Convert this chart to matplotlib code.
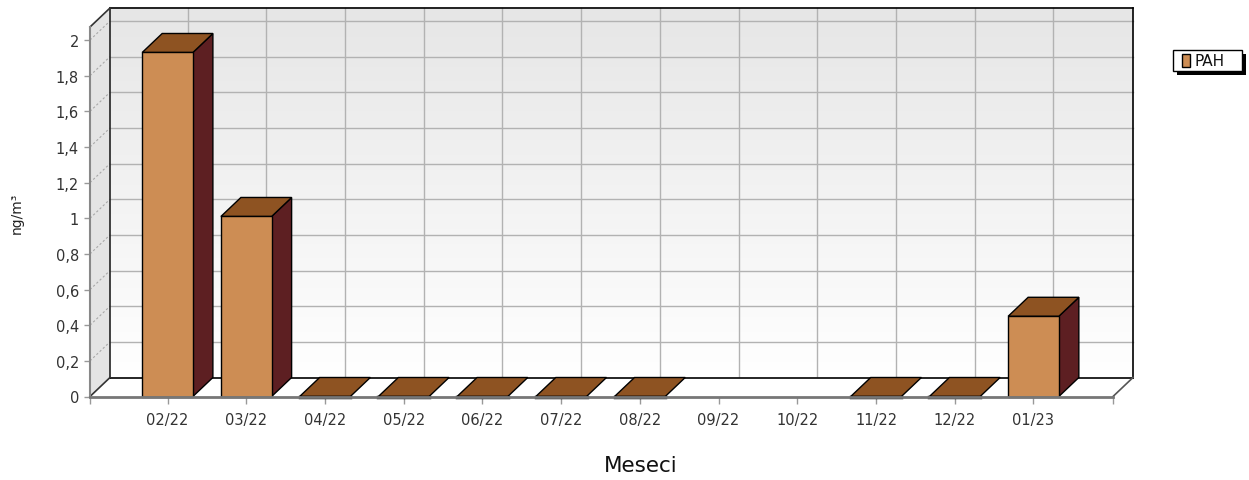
import numpy as np
import matplotlib
matplotlib.use("Agg")
import matplotlib.pyplot as plt
from matplotlib.patches import Polygon, Rectangle
from matplotlib.lines import Line2D
from matplotlib.transforms import IdentityTransform, ScaledTranslation
from matplotlib.colors import LinearSegmentedColormap

# ---------------- data ----------------
categories = ["02/22", "03/22", "04/22", "05/22", "06/22", "07/22",
              "08/22", "09/22", "10/22", "11/22", "12/22", "01/23"]
pah_values = [1.93, 1.01, 0, 0, 0, 0, 0, np.nan, np.nan, 0, 0, 0.45]
y_ticks = [0, 0.2, 0.4, 0.6, 0.8, 1.0, 1.2, 1.4, 1.6, 1.8, 2.0]
y_tick_labels = ["0", "0,2", "0,4", "0,6", "0,8", "1", "1,2", "1,4", "1,6", "1,8", "2"]
series_name = "PAH"
x_label = "Meseci"
y_label = "ng/m³"

# ---------------- style ----------------
FRONT = "#CD8D54"
TOP = "#8E5322"
SIDE = "#5D1F22"
GRID = "#B2B2B2"
DX, DY = 20, 19          # 3-D depth offset in pixels
BAR_W = 0.644

W, H = 1249, 481
fig = plt.figure(figsize=(W / 100, H / 100), dpi=100)
ax = fig.add_axes([90 / W, (H - 397.5) / H, (1113 - 90) / W, (397.5 - 28) / H])
X0, X1 = -0.985, 12.01
YMAX = 2.073
ax.set_xlim(X0, X1)
ax.set_ylim(0, YMAX)
ax.patch.set_visible(False)
ident = IdentityTransform()


def P(x, y, d):
    p = ax.transData.transform((x, y))
    return (p[0] + d * DX, p[1] + d * DY)


def poly(pts, **kw):
    ax.add_patch(Polygon(pts, closed=True, transform=ident, clip_on=False, **kw))


def line(a, b, **kw):
    ax.add_line(Line2D([a[0], b[0]], [a[1], b[1]], transform=ident, clip_on=False, **kw))


# back wall gradient
back = ax.transData + ScaledTranslation(DX / 100, DY / 100, fig.dpi_scale_trans)
cmap = LinearSegmentedColormap.from_list("wall", ["#FFFFFF", "#E6E6E6"])
grad = np.linspace(1, 0, 256).reshape(-1, 1)
ax.imshow(grad, extent=(X0, X1, 0, YMAX), transform=back, aspect="auto",
          cmap=cmap, vmin=0, vmax=1, zorder=0, clip_on=False, interpolation="bilinear")
ax.set_xlim(X0, X1)
ax.set_ylim(0, YMAX)

# back wall grid
for v in y_ticks[1:]:
    line(P(X0, v, 1), P(X1, v, 1), color=GRID, lw=1, zorder=0.5)
for i in range(len(categories)):
    line(P(i, 0, 1), P(i, YMAX, 1), color=GRID, lw=1, zorder=0.5)

# left wall
poly([P(X0, 0, 0), P(X0, YMAX, 0), P(X0, YMAX, 1), P(X0, 0, 1)],
     facecolor="#E4E4E4", edgecolor="none", zorder=0.6)
for v in y_ticks[1:]:
    line(P(X0, v, 0), P(X0, v, 1), color="#A8A8A8", lw=0.8, ls=(0, (2, 2)), zorder=0.65)

# floor
poly([P(X0, 0, 0), P(X1, 0, 0), P(X1, 0, 1), P(X0, 0, 1)],
     facecolor="white", edgecolor="none", zorder=0.7)

# outlines
line(P(X0, YMAX, 1), P(X1, YMAX, 1), color="black", lw=1.2, zorder=0.8)
line(P(X1, 0, 1), P(X1, YMAX, 1), color="black", lw=1.2, zorder=0.8)
line(P(X0, 0, 1), P(X0, YMAX, 1), color="#222222", lw=1.2, zorder=0.8)
line(P(X0, 0, 1), P(X1, 0, 1), color="black", lw=1.2, zorder=0.8)
line(P(X0, YMAX, 0), P(X0, YMAX, 1), color="#333333", lw=1.2, zorder=0.8)
line(P(X0, 0, 0), P(X0, 0, 1), color="#333333", lw=1.2, zorder=0.8)
line(P(X1, 0, 0), P(X1, 0, 1), color="#555555", lw=1.2, zorder=0.8)

# bars
for i, v in enumerate(pah_values):
    if np.isnan(v):
        continue
    xl, xr = i - BAR_W / 2, i + BAR_W / 2
    if v > 0:
        poly([P(xr, 0, 0), P(xr, v, 0), P(xr, v, 1), P(xr, 0, 1)],
             facecolor=SIDE, edgecolor="black", lw=1, zorder=2)
    poly([P(xl, v, 0), P(xr, v, 0), P(xr, v, 1), P(xl, v, 1)],
         facecolor=TOP, edgecolor="black", lw=1, zorder=2.1)
    if v > 0:
        ax.add_patch(Rectangle((xl, 0), BAR_W, v, facecolor=FRONT, edgecolor="black",
                               lw=1, zorder=2.2, clip_on=False))
    else:
        line(P(xl, 0, 0), P(xr, 0, 0), color="black", lw=2.5, zorder=2.2)

# axes
for s in ("top", "right"):
    ax.spines[s].set_visible(False)
ax.spines["left"].set_color("#888888")
ax.spines["left"].set_linewidth(1.5)
ax.spines["bottom"].set_color("#777777")
ax.spines["bottom"].set_linewidth(2)
ax.spines["bottom"].set_zorder(3)
ax.spines["left"].set_zorder(3)

ax.set_xticks(range(len(categories)))
ax.set_xticklabels(categories)
ax.set_xticks([X0, X1], minor=True)
ax.set_yticks(y_ticks)
ax.set_yticklabels(y_tick_labels)
ax.tick_params(axis="x", which="both", length=5, width=1, color="#999999", pad=6,
               labelsize=10.5, labelcolor="#333333")
ax.tick_params(axis="y", length=4, width=1, color="#999999", pad=4,
               labelsize=10.5, labelcolor="#333333")

fig.text(641 / W, 1 - 466 / H, x_label, ha="center", va="center", fontsize=15.5, color="#111111")
fig.text(17 / W, 1 - 213 / H, y_label, ha="center", va="center", rotation=90, fontsize=10,
         color="#222222")

# legend (box with drop shadow), in figure pixel space
def fpx(x, y):
    return (x / W, 1 - y / H)

lx0, ly0, lx1, ly1 = 1172.5, 50.5, 1241.5, 72
fig.patches.append(Rectangle(fpx(lx0 + 4, ly1 + 4), (lx1 - lx0) / W, (ly1 - ly0) / H,
                             transform=fig.transFigure, facecolor="black", edgecolor="none",
                             zorder=5))
fig.patches.append(Rectangle(fpx(lx0, ly1), (lx1 - lx0) / W, (ly1 - ly0) / H,
                             transform=fig.transFigure, facecolor="white", edgecolor="black",
                             lw=1, zorder=6))
fig.patches.append(Rectangle(fpx(1182, 68), 8 / W, 13 / H, transform=fig.transFigure,
                             facecolor=FRONT, edgecolor="black", lw=1, zorder=7))
fig.text(1194 / W, 1 - 61.5 / H, series_name, ha="left", va="center", fontsize=11,
         color="#111111", zorder=8)

fig.savefig("out.png", dpi=100)
